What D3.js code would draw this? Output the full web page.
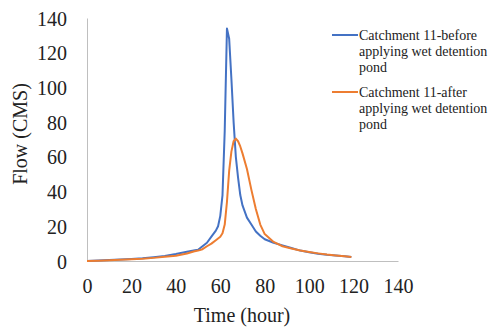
<!DOCTYPE html>
<html><head><meta charset="utf-8">
<script src="https://cdn.jsdelivr.net/npm/d3@7"></script>
<style>body{margin:0;background:#fff}svg{display:block}text{font-family:"Liberation Serif","Times New Roman",serif;fill:#222}</style>
</head><body><svg id="c" width="491" height="331"></svg>
<script>
const time = [0,5,10,15,20,25,30,35,40,45,48,50,52,54,56,58,59,60,61,62,63,64,65,66,67,68,69,70,72,74,76,78,80,84,88,92,96,100,104,108,112,116,119];
const before = [0,0.3,0.6,0.9,1.2,1.6,2.2,2.9,4,5.3,6,6.5,8.5,10.5,14,17.5,20,26,38,75,134,128,105,80,60,48,38,32,25,21,17,14.5,12.5,10.5,9,7.5,6,5,4.2,3.6,3.2,2.8,2.3];
const after = [0,0.2,0.4,0.7,1,1.3,1.8,2.4,3,4.3,5.5,6,6.8,8.5,10,12,13,14,16,21,34,52,63,69,70.5,69,66,62,53,41,30,21,15.5,11,8.5,7.2,6,5.2,4.4,3.7,3.2,2.8,2.3];
const xTicks = [0,20,40,60,80,100,120,140];
const yTicks = [0,20,40,60,80,100,120,140];
const legendLines = [["Catchment 11-before","applying wet detention","pond"],["Catchment 11-after","applying wet detention","pond"]];
const colors = ["#4472C4","#ED7D31"];

const svg = d3.select("#c");
const x = d3.scaleLinear().domain([0,140]).range([87,398]);
const y = d3.scaleLinear().domain([0,140]).range([261,18]);

svg.append("g").attr("transform","translate(0,261)")
  .call(d3.axisBottom(x).tickValues(xTicks).tickSize(0).tickPadding(18))
  .call(g=>g.attr("font-family",null).attr("font-size",null))
  .call(g=>g.select(".domain").attr("stroke","#bfbfbf").attr("stroke-width",1))
  .call(g=>g.selectAll("text").attr("font-size",20).attr("fill","#222"));
svg.append("g").attr("transform","translate(87,0)")
  .call(d3.axisLeft(y).tickValues(yTicks).tickSize(0).tickPadding(20))
  .call(g=>g.attr("font-family",null).attr("font-size",null))
  .call(g=>g.select(".domain").attr("stroke","#bfbfbf").attr("stroke-width",1))
  .call(g=>g.selectAll("text").attr("font-size",20).attr("dy","0.35em").attr("fill","#222"));

const line = d3.line().x((d,i)=>x(time[i])).y(d=>y(d));
[before, after].forEach((s,k)=>{
  svg.append("path").datum(s).attr("d",line).attr("fill","none")
    .attr("stroke",colors[k]).attr("stroke-width",2).attr("stroke-linejoin","round");
});

svg.append("text").attr("x",242).attr("y",322).attr("text-anchor","middle").attr("font-size",20).text("Time (hour)");
svg.append("text").attr("transform","translate(27,134) rotate(-90)").attr("text-anchor","middle").attr("font-size",20).text("Flow (CMS)");

const lg = svg.append("g");
[35, 92].forEach((yy,k)=>{
  lg.append("line").attr("x1",332).attr("x2",358).attr("y1",yy).attr("y2",yy).attr("stroke",colors[k]).attr("stroke-width",2);
  legendLines[k].forEach((t,j)=>{
    lg.append("text").attr("x",359).attr("y",yy+j*16).attr("dy","0.35em").attr("font-size",14).text(t);
  });
});
</script></body></html>
